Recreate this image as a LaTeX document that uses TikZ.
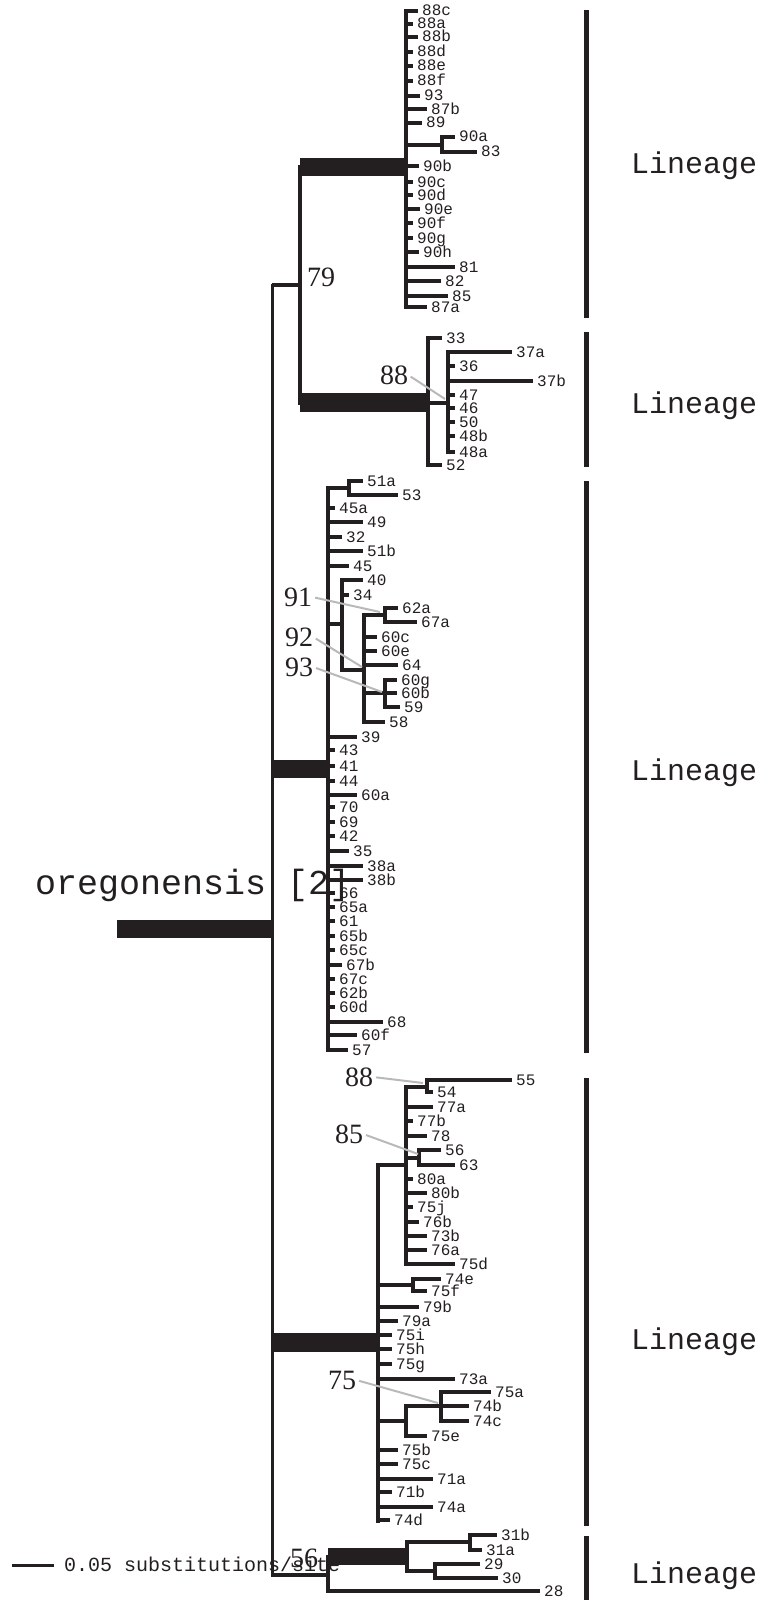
\documentclass[tikz,border=0pt]{standalone}
\usepackage{fontspec}
\setmainfont{Liberation Serif}
\setmonofont{Liberation Mono}
\definecolor{tc}{RGB}{35,31,32}
\definecolor{bsg}{RGB}{185,185,185}
\newcommand\tp[4]{\node[tl] (t#4) at (#3+4,#2) {#4}; \draw[br] (#1,#2) -- ([xshift=-4pt]t#4.west);}
\newcommand\trV[3]{\draw[br,line cap=rect] (#1,#2) -- (#1,#3);}
\newcommand\trH[3]{\draw[br] (#1,#3) -- (#2,#3);}
\begin{document}
\begin{tikzpicture}[x=1pt,y=-1pt,
  br/.style={draw=tc,line width=3.2pt},
  tl/.style={font=\ttfamily\fontsize{16}{16}\selectfont,inner sep=0pt,anchor=west,text height=10pt,text depth=0pt,text=tc},
  bs/.style={font=\fontsize{28}{28}\selectfont,inner sep=0pt,text height=19pt,text depth=0pt,text=tc},
  gl/.style={draw=bsg,line width=2pt,shorten <=3pt},
  lin/.style={font=\ttfamily\fontsize{30}{30}\selectfont,inner sep=0pt,anchor=west,text height=17pt,text depth=0pt,text=tc},
  bar/.style={fill=tc}]
\useasboundingbox (0,0) rectangle (762,1600);
% root
\fill[bar] (117,920) rectangle (272,938);
\node[font=\ttfamily\fontsize{35}{35}\selectfont,inner sep=0pt,anchor=base west,text=tc] (ore) at (35,894) {oregonensis [2]};
\draw[br,line width=3pt,line cap=rect] (272,285) -- (272,1575);
\trH{272}{300}{285}
\trV{300}{167}{403}
\fill[bar] (300,158) rectangle (407,176);
\fill[bar] (300,393) rectangle (428,412);
\node[bs] (b79) at (321,277) {79};
% lineage 1
\trV{406}{11}{307}
\tp{406}{11}{418}{88c}
\tp{406}{24}{413}{88a}
\tp{406}{37}{418}{88b}
\tp{406}{52}{413}{88d}
\tp{406}{66}{413}{88e}
\tp{406}{81}{413}{88f}
\tp{406}{96}{420}{93}
\tp{406}{109}{427}{87b}
\tp{406}{123}{422}{89}
\trH{406}{442}{145}\trV{442}{137}{152}
\tp{442}{137}{455}{90a}
\tp{442}{152}{477}{83}
\tp{406}{166}{419}{90b}
\tp{406}{182}{413}{90c}
\tp{406}{195}{413}{90d}
\tp{406}{209}{420}{90e}
\tp{406}{223}{413}{90f}
\tp{406}{238}{413}{90g}
\tp{406}{252}{419}{90h}
\tp{406}{267}{455}{81}
\tp{406}{281}{441}{82}
\tp{406}{296}{448}{85}
\tp{406}{307}{427}{87a}
% lineage 2
\trV{428}{338}{465}
\tp{428}{338}{442}{33}
\tp{428}{465}{442}{52}
\trH{428}{448}{403}\trV{448}{352}{452}
\tp{448}{352}{512}{37a}
\tp{448}{366}{455}{36}
\tp{448}{381}{533}{37b}
\tp{448}{395}{455}{47}
\tp{448}{408}{455}{46}
\tp{448}{422}{455}{50}
\tp{448}{436}{455}{48b}
\tp{448}{452}{455}{48a}
\node[bs] (b88a) at (394,375) {88};
\coordinate (g88a) at (445,399);
\draw[gl] (b88a.east) -- (g88a);
% lineage 3
\fill[bar] (272,760) rectangle (328,778);
\trV{328}{488}{1050}
\trH{328}{349}{488}\trV{349}{481}{495}
\tp{349}{481}{363}{51a}
\tp{349}{495}{398}{53}
\tp{328}{508}{335}{45a}
\tp{328}{522}{363}{49}
\tp{328}{537}{342}{32}
\tp{328}{551}{363}{51b}
\tp{328}{566}{349}{45}
\trH{328}{342}{624}\trV{342}{580}{670}
\tp{342}{580}{363}{40}
\tp{342}{595}{349}{34}
\trH{342}{364}{670}\trV{364}{615}{722}
\trH{364}{385}{615}\trV{385}{608}{622}
\tp{385}{608}{398}{62a}
\tp{385}{622}{417}{67a}
\tp{364}{637}{377}{60c}
\tp{364}{651}{377}{60e}
\tp{364}{665}{398}{64}
\trH{364}{385}{693}\trV{385}{680}{707}
\tp{385}{680}{397}{60g}
\tp{385}{693}{397}{60b}
\tp{385}{707}{400}{59}
\tp{364}{722}{385}{58}
\tp{328}{737}{357}{39}
\tp{328}{750}{335}{43}
\tp{328}{766}{335}{41}
\tp{328}{781}{335}{44}
\tp{328}{795}{357}{60a}
\tp{328}{807}{335}{70}
\tp{328}{822}{335}{69}
\tp{328}{836}{335}{42}
\tp{328}{851}{349}{35}
\tp{328}{866}{363}{38a}
\tp{328}{880}{363}{38b}
\tp{328}{893}{335}{66}
\tp{328}{907}{335}{65a}
\tp{328}{921}{335}{61}
\tp{328}{936}{335}{65b}
\tp{328}{950}{335}{65c}
\tp{328}{965}{342}{67b}
\tp{328}{979}{335}{67c}
\tp{328}{993}{335}{62b}
\tp{328}{1007}{335}{60d}
\tp{328}{1022}{383}{68}
\tp{328}{1035}{357}{60f}
\tp{328}{1050}{348}{57}
\node[bs] (b91) at (298,597) {91};
\node[bs] (b92) at (299,637) {92};
\node[bs] (b93) at (299,667) {93};
\coordinate (g91) at (380,612);
\coordinate (g92) at (362,667);
\coordinate (g93) at (382,692);
\draw[gl] (b91.east) -- (g91);
\draw[gl] (b92.east) -- (g92);
\draw[gl] (b93.east) -- (g93);
% lineage 4
\fill[bar] (272,1333) rectangle (378,1352);
\trV{378}{1165}{1521}
\trH{378}{406}{1165}\trV{406}{1087}{1264}
\trH{406}{427}{1087}\trV{427}{1080}{1092}
\tp{427}{1080}{512}{55}
\tp{427}{1092}{433}{54}
\tp{406}{1107}{433}{77a}
\tp{406}{1121}{413}{77b}
\tp{406}{1136}{427}{78}
\trH{406}{419}{1158}\trV{419}{1150}{1165}
\tp{419}{1150}{441}{56}
\tp{419}{1165}{455}{63}
\tp{406}{1179}{413}{80a}
\tp{406}{1193}{427}{80b}
\tp{406}{1207}{413}{75j}
\tp{406}{1222}{419}{76b}
\tp{406}{1236}{427}{73b}
\tp{406}{1250}{427}{76a}
\tp{406}{1264}{455}{75d}
\trH{378}{413}{1285}\trV{413}{1279}{1291}
\tp{413}{1279}{441}{74e}
\tp{413}{1291}{427}{75f}
\tp{378}{1307}{419}{79b}
\tp{378}{1321}{398}{79a}
\tp{378}{1335}{392}{75i}
\tp{378}{1349}{392}{75h}
\tp{378}{1364}{392}{75g}
\tp{378}{1379}{455}{73a}
\trH{378}{406}{1421}\trV{406}{1406}{1436}
\trH{406}{441}{1406}\trV{441}{1392}{1421}
\tp{441}{1392}{491}{75a}
\tp{441}{1406}{469}{74b}
\tp{441}{1421}{469}{74c}
\tp{406}{1436}{427}{75e}
\tp{378}{1450}{398}{75b}
\tp{378}{1464}{398}{75c}
\tp{378}{1479}{433}{71a}
\tp{378}{1492}{392}{71b}
\tp{378}{1507}{433}{74a}
\tp{378}{1520}{390}{74d}
\node[bs] (b88b) at (359,1077) {88};
\node[bs] (b85) at (349,1134) {85};
\node[bs] (b75) at (342,1380) {75};
\coordinate (g88b) at (423,1083);
\coordinate (g85) at (418,1154);
\coordinate (g75) at (438,1403);
\draw[gl] (b88b.east) -- (g88b);
\draw[gl] (b85.east) -- (g85);
\draw[gl] (b75.east) -- (g75);
% lineage 5
\trH{272}{328}{1575}\trV{328}{1557}{1591}
\fill[bar] (328,1548) rectangle (407,1565);
\trV{407}{1542}{1571}
\trH{407}{470}{1542}\trV{470}{1535}{1550}
\tp{470}{1535}{497}{31b}
\tp{470}{1550}{482}{31a}
\trH{407}{435}{1571}\trV{435}{1564}{1578}
\tp{435}{1564}{480}{29}
\tp{435}{1578}{498}{30}
\tp{328}{1591}{540}{28}
% scale bar
\node[font=\ttfamily\fontsize{20}{20}\selectfont,inner sep=0pt,anchor=west,text height=12pt,text depth=0pt,text=tc] (sc) at (64,1565) {0.05 substitutions/site};
\coordinate (sa) at (12,1565);
\draw[draw=tc,line width=3pt] (sa) -- ([xshift=-10pt]sc.west);
\node[bs] (b56) at (304,1558) {56};
% lineage bars
\fill[bar] (584,10) rectangle (589,318);
\fill[bar] (584,332) rectangle (589,467);
\fill[bar] (584,481) rectangle (589,1053);
\fill[bar] (584,1078) rectangle (589,1526);
\fill[bar] (584,1536) rectangle (589,1600);
\node[lin] (L1) at (631,165) {Lineage};
\node[lin] (L2) at (631,405) {Lineage};
\node[lin] (L3) at (631,772) {Lineage};
\node[lin] (L4) at (631,1341) {Lineage};
\node[lin] (L5) at (631,1575) {Lineage};
\end{tikzpicture}
\end{document}
